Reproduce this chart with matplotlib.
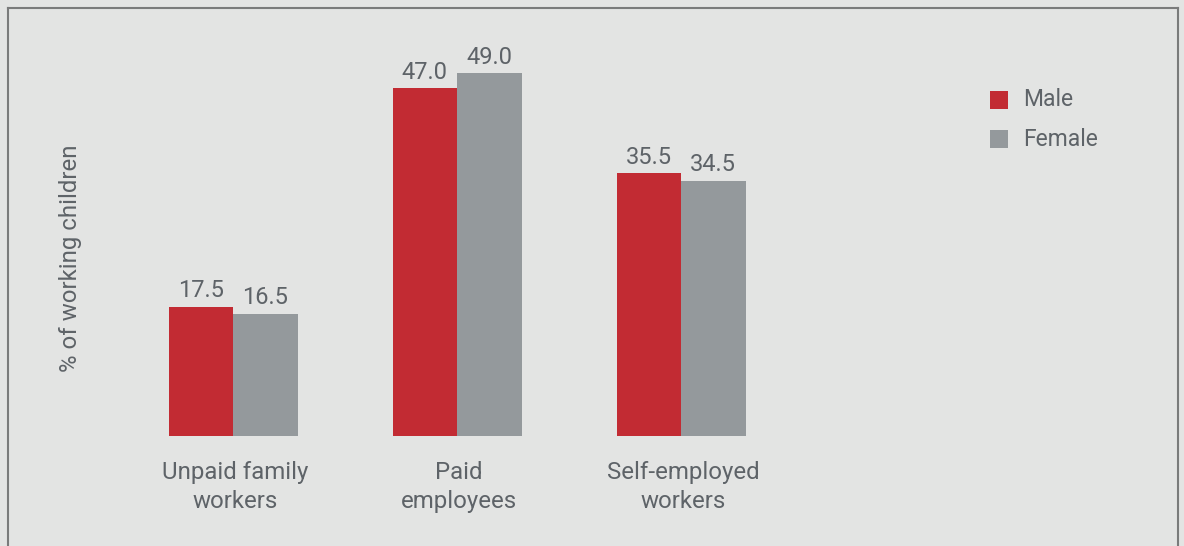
import matplotlib.pyplot as plt
from matplotlib.lines import Line2D
from matplotlib.patches import Rectangle

categories = ['Unpaid family\nworkers', 'Paid\nemployees', 'Self-employed\nworkers']
male = [17.5, 47.0, 35.5]
female = [16.5, 49.0, 34.5]
series_names = ['Male', 'Female']

RED = '#c22b33'
GREY = '#94999c'
BG = '#e3e4e3'
TEXT = '#5e6368'

plt.rcParams['font.family'] = ['Roboto', 'DejaVu Sans']

W, H = 1184, 546
fig = plt.figure(figsize=(W / 100, H / 100), dpi=100, facecolor=BG)
ax = fig.add_axes([0, 0, 1, 1])
ax.set_facecolor(BG)

# pixel layout: groups 224 px apart, first centred at x=233; baseline 110 px up, 7.4 px per unit
step, x0, base, ppu = 224.0, 233.0, 110.0, 7.4
ax.set_xlim(-x0 / step, (W - x0) / step)
ax.set_ylim(-base / ppu, (H - base) / ppu)
ax.axis('off')

width = 64.5 / step
xs = list(range(len(categories)))
ax.bar([x - width / 2 for x in xs], male, width, color=RED)
ax.bar([x + width / 2 for x in xs], female, width, color=GREY)

for x, m, f, cat in zip(xs, male, female, categories):
    ax.text(x - width / 2, m + 0.6, f'{m:.1f}', ha='center', va='bottom',
            fontsize=17, color=TEXT)
    ax.text(x + width / 2, f + 0.6, f'{f:.1f}', ha='center', va='bottom',
            fontsize=17, color=TEXT)
    ax.text(x + 0.01, -(487 - 436) / ppu, cat, ha='center', va='center',
            fontsize=17.3, color=TEXT, linespacing=1.32)

fig.text(70 / W, 1 - 258 / H, '% of working children', rotation=90,
         ha='center', va='center', fontsize=17.3, color=TEXT)

# legend drawn by hand: 18 px squares, rows 39 px apart
for i, (name, col) in enumerate(zip(series_names, [RED, GREY])):
    cy = 100 + 39 * i
    fig.add_artist(Rectangle((990 / W, 1 - (cy + 9) / H), 18 / W, 18 / H,
                             transform=fig.transFigure, color=col, lw=0))
    fig.text(1023 / W, 1 - cy / H, name, ha='left', va='center',
             fontsize=16.5, color=TEXT)

# frame line around the panel (open at the bottom)
bc = '#7a7b7b'
fig.add_artist(Line2D([7.5 / W, 7.5 / W], [0, 1 - 7.5 / H], color=bc, lw=1.5))
fig.add_artist(Line2D([7.5 / W, 1177.5 / W], [1 - 7.5 / H, 1 - 7.5 / H], color=bc, lw=1.5))
fig.add_artist(Line2D([1177.5 / W, 1177.5 / W], [0, 1 - 7.5 / H], color=bc, lw=1.5))

fig.savefig('out.png', dpi=100, facecolor=BG)
